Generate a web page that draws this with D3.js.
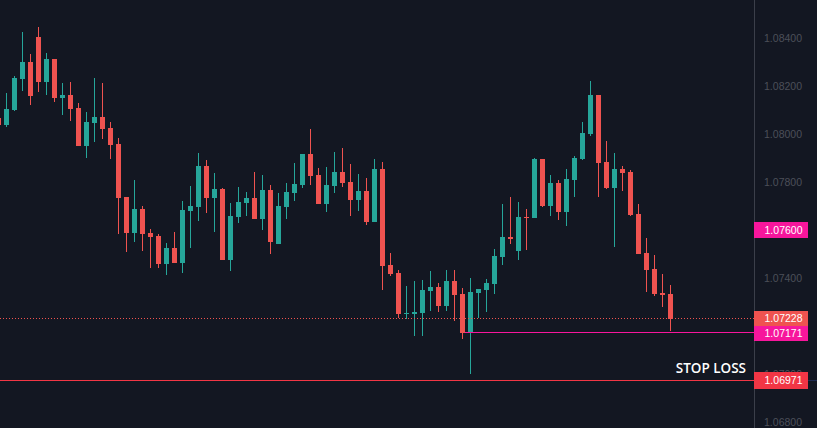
<!DOCTYPE html>
<html>
<head>
<meta charset="utf-8">
<script src="https://cdn.jsdelivr.net/npm/d3@7"></script>
<style>
  html, body { margin: 0; padding: 0; background: #131722; overflow: hidden; }
  svg { display: block; }
</style>
</head>
<body>
<div id="chart"></div>
<script>
// candle values (EURUSD-style quotes)
var opens  = [1.08067,1.08039,1.08101,1.08230,1.08301,1.08405,1.08218,1.08314,1.08151,1.08163,
              1.08109,1.07950,1.08046,1.08071,1.08026,1.07959,1.07738,1.07587,1.07687,1.07587,
              1.07575,1.07458,1.07525,1.07462,1.07679,1.07696,1.07867,1.07733,1.07769,1.07474,
              1.07654,1.07712,1.07733,1.07646,1.07767,1.07541,1.07696,1.07754,1.07788,1.07917,
              1.07829,1.07708,1.07783,1.07842,1.07800,1.07725,1.07762,1.07633,1.07854,1.07454,
              1.07420,1.07249,1.07249,1.07253,1.07345,1.07362,1.07282,1.07387,1.07332,1.07170,
              1.07337,1.07349,1.07374,1.07487,1.07570,1.07512,1.07654,1.07650,1.07896,1.07700,
              1.07796,1.07675,1.07808,1.07896,1.08001,1.08163,1.07884,1.07775,1.07854,1.07842,
              1.07666,1.07504,1.07437,1.07337,1.07332];
var highs  = [1.08071,1.08172,1.08243,1.08426,1.08334,1.08447,1.08339,1.08314,1.08213,1.08218,
              1.08130,1.08092,1.08234,1.08213,1.08051,1.07984,1.07738,1.07808,1.07700,1.07604,
              1.07583,1.07545,1.07591,1.07721,1.07783,1.07921,1.07892,1.07838,1.07775,1.07712,
              1.07779,1.07758,1.07842,1.07829,1.07788,1.07754,1.07796,1.07879,1.07917,1.08021,
              1.07859,1.07863,1.07925,1.07942,1.07875,1.07833,1.07817,1.07896,1.07884,1.07504,
              1.07433,1.07366,1.07387,1.07391,1.07429,1.07378,1.07433,1.07433,1.07357,1.07399,
              1.07353,1.07395,1.07520,1.07708,1.07738,1.07716,1.07687,1.07900,1.07896,1.07829,
              1.07808,1.07854,1.07909,1.08051,1.08222,1.08163,1.07971,1.07921,1.07867,1.07850,
              1.07708,1.07566,1.07495,1.07416,1.07370];
var lows   = [1.08034,1.08031,1.08097,1.08180,1.08122,1.08176,1.08163,1.08134,1.08080,1.08055,
              1.07950,1.07900,1.07967,1.07980,1.07896,1.07583,1.07508,1.07550,1.07512,1.07441,
              1.07441,1.07412,1.07462,1.07420,1.07525,1.07637,1.07671,1.07591,1.07474,1.07429,
              1.07629,1.07658,1.07646,1.07600,1.07500,1.07541,1.07646,1.07721,1.07775,1.07788,
              1.07708,1.07675,1.07754,1.07779,1.07658,1.07679,1.07621,1.07633,1.07349,1.07408,
              1.07232,1.07228,1.07157,1.07157,1.07261,1.07257,1.07261,1.07220,1.07145,1.06998,
              1.07232,1.07257,1.07332,1.07454,1.07541,1.07474,1.07516,1.07650,1.07696,1.07658,
              1.07641,1.07616,1.07738,1.07892,1.07992,1.07738,1.07769,1.07529,1.07762,1.07658,
              1.07500,1.07341,1.07324,1.07278,1.07178];
var closes = [1.08039,1.08105,1.08234,1.08301,1.08159,1.08218,1.08314,1.08151,1.08163,1.08105,
              1.07950,1.08051,1.08071,1.08021,1.07955,1.07733,1.07587,1.07687,1.07583,1.07570,
              1.07458,1.07525,1.07462,1.07683,1.07700,1.07867,1.07733,1.07769,1.07474,1.07658,
              1.07716,1.07733,1.07646,1.07767,1.07550,1.07700,1.07758,1.07792,1.07917,1.07825,
              1.07708,1.07788,1.07842,1.07796,1.07725,1.07762,1.07633,1.07854,1.07449,1.07416,
              1.07249,1.07253,1.07257,1.07349,1.07362,1.07282,1.07387,1.07328,1.07170,1.07341,
              1.07353,1.07378,1.07491,1.07570,1.07562,1.07654,1.07650,1.07896,1.07700,1.07796,
              1.07675,1.07813,1.07900,1.08005,1.08163,1.07879,1.07775,1.07854,1.07838,1.07662,
              1.07500,1.07433,1.07332,1.07328,1.07228];

// grid labels on the price scale (1.072 and 1.076 sit under the tags)
var priceTicks = [1.068, 1.070, 1.074, 1.078, 1.080, 1.082, 1.084];

var lastPrice = 1.07228;
var entryPrice = 1.07171;
var entryFrom = 58;          // candle where the entry ray starts
var stopPrice = 1.06971;
var markedPrice = 1.07600;
var stopText = "STOP LOSS";

var upColor = "#26a69a";
var downColor = "#ef5350";
var pink = "#f7169c";
var stopRed = "#f23645";

var dim = { "w": 817, "h": 428 };
var axisX = 754;

var svg = d3.select("#chart").append("svg")
    .attr("width", dim.w)
    .attr("height", dim.h)
    .attr("shape-rendering", "crispEdges");

svg.append("rect")
    .attr("width", dim.w)
    .attr("height", dim.h)
    .attr("fill", "#131722");

var x = d3.scaleLinear().domain([0, 84]).range([-1.5, 670.5]);
var y = d3.scaleLinear().domain([1.068, 1.084]).range([421.5, 38.3]);

var candles = opens.map(function(o, i) {
    return { i: i, o: o, h: highs[i], l: lows[i], c: closes[i] };
});

var plot = svg.append("g").attr("class", "candles");

plot.selectAll(".wick")
    .data(candles)
    .enter().append("rect")
    .attr("class", "wick")
    .attr("x", function(d) { return Math.round(x(d.i) - 0.5); })
    .attr("width", 1)
    .attr("y", function(d) { return y(d.h); })
    .attr("height", function(d) { return Math.max(1, y(d.l) - y(d.h)); })
    .attr("fill", function(d) { return d.c >= d.o ? upColor : downColor; });

plot.selectAll(".body")
    .data(candles)
    .enter().append("rect")
    .attr("class", "body")
    .attr("x", function(d) { return Math.round(x(d.i) - 2.5); })
    .attr("width", 5)
    .attr("y", function(d) { return y(Math.max(d.o, d.c)); })
    .attr("height", function(d) { return Math.max(1, Math.abs(y(d.o) - y(d.c))); })
    .attr("fill", function(d) { return d.c >= d.o ? upColor : downColor; });

// price lines, drawn as 1px rects so they stay sharp
function hline(p, x1, x2, color) {
    return svg.append("rect")
        .attr("x", x1)
        .attr("width", x2 - x1)
        .attr("y", Math.floor(y(p)))
        .attr("height", 1)
        .attr("fill", color);
}

// dotted last-price line
svg.append("g").selectAll("rect")
    .data(d3.range(0, axisX, 3))
    .enter().append("rect")
    .attr("x", function(d) { return d; })
    .attr("width", 1)
    .attr("y", Math.floor(y(lastPrice)))
    .attr("height", 1)
    .attr("fill", downColor);

hline(entryPrice, Math.round(x(entryFrom) + 2.5), axisX, pink);
hline(stopPrice, 0, axisX, stopRed);
hline(stopPrice, 808, dim.w, "#1f2b52");

svg.append("text")
    .attr("x", 746)
    .attr("y", y(stopPrice) - 7.5)
    .attr("text-anchor", "end")
    .attr("fill", "#ffffff")
    .style("font-family", "'Open Sans', 'Noto Sans', sans-serif")
    .style("font-weight", 600)
    .style("font-size", "13.5px")
    .text(stopText);

// right price axis
var axis = d3.axisRight(y)
    .tickValues(priceTicks)
    .tickSize(0)
    .tickFormat(d3.format(".5f"));

var ag = svg.append("g")
    .attr("transform", "translate(" + axisX + ",0)")
    .call(axis);

ag.select(".domain").remove();
ag.selectAll("text")
    .attr("x", 48)
    .attr("dy", "0.35em")
    .attr("text-anchor", "end")
    .attr("fill", "#4c4f59")
    .style("font-family", "'Liberation Sans', Arial, sans-serif")
    .style("font-size", "10.5px");

svg.append("rect")
    .attr("x", axisX)
    .attr("width", 1)
    .attr("y", 0)
    .attr("height", dim.h)
    .attr("fill", "#3b3f4a");

// price tags on the axis
var tags = [
    { p: markedPrice, color: pink, h: 16 },
    { p: lastPrice, color: downColor, h: 15 },
    { p: entryPrice, color: pink, h: 15 },
    { p: stopPrice, color: stopRed, h: 17 }
];
tags.forEach(function(t) { t.cy = y(t.p); });
tags.sort(function(a, b) { return a.cy - b.cy; });
for (var k = 1; k < tags.length; k++) {
    var a = tags[k - 1], b = tags[k];
    var gap = (b.cy - a.cy) - (a.h + b.h) / 2;
    if (gap < 0) {
        a.cy += gap / 2;
        b.cy -= gap / 2;
    }
}

var tg = svg.append("g").attr("class", "tags")
    .selectAll("g")
    .data(tags)
    .enter().append("g");

tg.append("rect")
    .attr("x", 754)
    .attr("width", 54)
    .attr("y", function(d) { return Math.round(d.cy - d.h / 2); })
    .attr("height", function(d) { return d.h; })
    .attr("fill", function(d) { return d.color; });

tg.append("text")
    .attr("x", 802.5)
    .attr("y", function(d) { return d.cy; })
    .attr("dy", "0.36em")
    .attr("text-anchor", "end")
    .attr("fill", "#ffffff")
    .style("font-family", "'Liberation Sans', Arial, sans-serif")
    .style("font-size", "10.5px")
    .text(function(d) { return d3.format(".5f")(d.p); });
</script>
</body>
</html>
